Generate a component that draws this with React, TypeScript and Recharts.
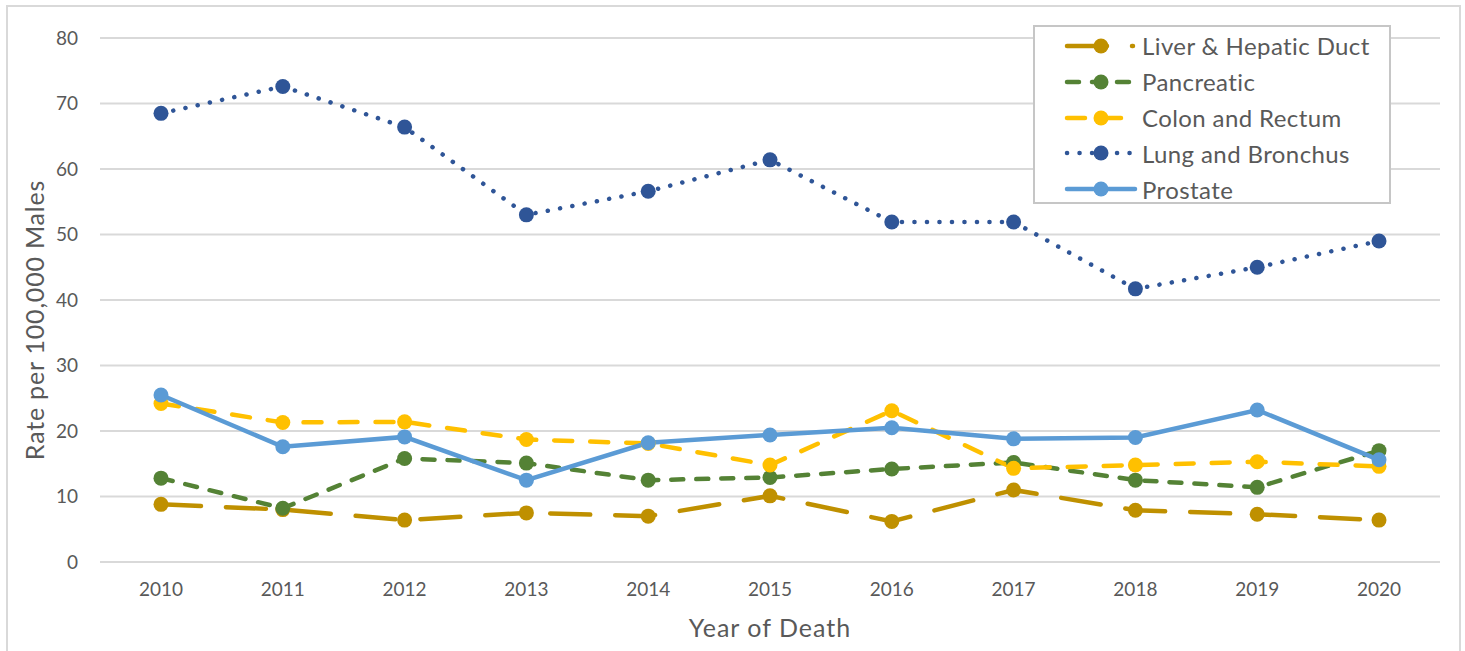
import React from "react";
import {
  LineChart,
  Line,
  XAxis,
  YAxis,
  CartesianGrid,
  Label,
} from "recharts";

const years = ["2010", "2011", "2012", "2013", "2014", "2015", "2016", "2017", "2018", "2019", "2020"];
const liver = [8.8, 8.0, 6.4, 7.5, 7.0, 10.1, 6.2, 11.0, 7.9, 7.3, 6.4];
const pancreatic = [12.8, 8.2, 15.8, 15.1, 12.5, 12.9, 14.2, 15.2, 12.5, 11.4, 17.0];
const colon = [24.2, 21.3, 21.4, 18.7, 18.1, 14.8, 23.1, 14.3, 14.8, 15.3, 14.6];
const lung = [68.5, 72.6, 66.4, 53.0, 56.6, 61.4, 51.9, 51.9, 41.7, 45.0, 49.0];
const prostate = [25.5, 17.6, 19.1, 12.5, 18.2, 19.4, 20.5, 18.8, 19.0, 23.2, 15.6];
const yTicks = [0, 10, 20, 30, 40, 50, 60, 70, 80];

const data = years.map((year, i) => ({
  year,
  liver: liver[i],
  pancreatic: pancreatic[i],
  colon: colon[i],
  lung: lung[i],
  prostate: prostate[i],
}));

const FONT = "Lato, 'Open Sans', sans-serif";
const TEXT = "#595959";

// draw order matters: prostate ends up on top
const seriesDefs = [
  { key: "liver", name: "Liver & Hepatic Duct", color: "#BF9000", dash: "40 25" },
  { key: "pancreatic", name: "Pancreatic", color: "#548235", dash: "12 13" },
  { key: "colon", name: "Colon and Rectum", color: "#FFC000", dash: "18 18" },
  { key: "lung", name: "Lung and Bronchus", color: "#2F5597", dash: "0.1 12.4" },
  { key: "prostate", name: "Prostate", color: "#5B9BD5", dash: undefined },
];

// legend drawn outside the chart so it doesn't eat plot space
function LegendBox() {
  return (
    <div
      style={{
        position: "absolute",
        left: 1033,
        top: 25,
        width: 358,
        height: 179,
        border: "2px solid #c6c6c6",
        background: "#fff",
        boxSizing: "border-box",
        paddingTop: 1,
      }}
    >
      {seriesDefs.map((s) => (
        <div key={s.key} style={{ display: "flex", alignItems: "center", height: 35.8 }}>
          <svg width={107} height={36} style={{ flex: "none" }}>
            <line
              x1={32}
              y1={18}
              x2={s.key === "prostate" ? 100 : 98}
              y2={18}
              stroke={s.color}
              strokeWidth={4.5}
              strokeLinecap="round"
              strokeDasharray={s.dash}
            />
            <circle cx={66} cy={18} r={7.5} fill={s.color} />
          </svg>
          <span
            style={{
              fontFamily: FONT,
              fontSize: 24,
              letterSpacing: 0.4,
              color: TEXT,
              whiteSpace: "nowrap",
            }}
          >
            {s.name}
          </span>
        </div>
      ))}
    </div>
  );
}

export default function App() {
  return (
    <div style={{ position: "absolute", left: 0, top: 0, width: 1465, height: 651, overflow: "hidden", background: "#fff" }}>
      <div
        style={{
          position: "absolute",
          left: 6,
          top: 5,
          width: 1455,
          height: 700,
          border: "2px solid #d9d9d9",
          boxSizing: "border-box",
        }}
      />
      <div style={{ position: "absolute", left: 0, top: 0 }}>
        <LineChart
          width={1465}
          height={651}
          data={data}
          margin={{ top: 38, right: 25, bottom: 0, left: 0 }}
        >
          <CartesianGrid vertical={false} stroke="#d9d9d9" strokeWidth={2} />
          <XAxis
            dataKey="year"
            height={89}
            padding={{ left: 61, right: 61 }}
            axisLine={{ stroke: "#d9d9d9", strokeWidth: 2 }}
            tickLine={false}
            tickSize={0}
            tickMargin={21}
            tick={{ fontFamily: FONT, fontSize: 19, fill: TEXT }}
            interval={0}
          >
            <Label
              value="Year of Death"
              position="insideBottom"
              offset={14}
              style={{ fontFamily: FONT, fontSize: 25, letterSpacing: 1, fill: TEXT }}
            />
          </XAxis>
          <YAxis
            width={100}
            domain={[0, 80]}
            ticks={yTicks}
            axisLine={false}
            tickLine={false}
            tickSize={0}
            tickMargin={22}
            tick={{ fontFamily: FONT, fontSize: 19, fill: TEXT }}
          >
            <Label
              value="Rate per 100,000 Males"
              angle={-90}
              position="insideLeft"
              offset={35}
              dy={20}
              style={{ fontFamily: FONT, fontSize: 25, letterSpacing: 0.8, fill: TEXT, textAnchor: "middle" }}
            />
          </YAxis>
          {seriesDefs.map((s) => (
            <Line
              key={s.key}
              dataKey={s.key}
              name={s.name}
              stroke={s.color}
              strokeWidth={4.5}
              strokeDasharray={s.dash}
              strokeLinecap="round"
              dot={{ r: 7.5, fill: s.color, stroke: "none", strokeDasharray: "" }}
              activeDot={false}
              isAnimationActive={false}
            />
          ))}
        </LineChart>
      </div>
      <LegendBox />
    </div>
  );
}
